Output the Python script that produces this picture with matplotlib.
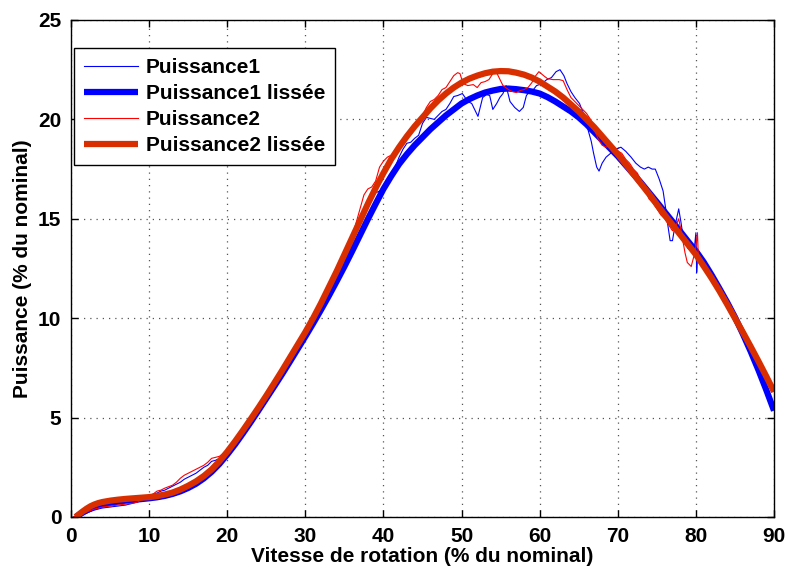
import matplotlib
matplotlib.use("Agg")
import matplotlib.pyplot as plt

# ---------------- data ----------------
# Smoothed curves
x_smooth = [0.6, 1, 1.5, 2, 2.5, 3, 3.5, 4, 5, 6, 7, 8, 9, 10, 11, 12, 13, 14, 15, 16, 17, 18, 19, 20,
            21, 22, 23, 24, 25, 26, 27, 28, 29, 30, 31, 32, 33, 34, 35, 36, 37, 38, 39, 40,
            41, 42, 43, 44, 45, 46, 47, 48, 49, 50, 51, 52, 53, 54, 55, 56, 57, 58, 59, 60,
            61, 62, 63, 64, 65, 66, 67, 68, 69, 70, 71, 72, 73, 74, 75, 76, 77, 78, 79, 80,
            81, 82, 83, 84, 85, 86, 87, 88, 89, 90]
p2_smooth = [0.0, 0.13, 0.28, 0.42, 0.54, 0.63, 0.7, 0.75, 0.82, 0.87, 0.91, 0.94, 0.97, 1.0, 1.05, 1.13, 1.23, 1.38, 1.57, 1.79, 2.06, 2.39, 2.8, 3.28,
             3.8, 4.35, 4.92, 5.5, 6.1, 6.72, 7.35, 8.0, 8.65, 9.3, 10.0, 10.75, 11.55, 12.35, 13.2, 14.05, 14.9, 15.75, 16.55, 17.3,
             18.0, 18.6, 19.15, 19.65, 20.1, 20.55, 20.95, 21.3, 21.6, 21.85, 22.05, 22.2, 22.32, 22.4, 22.43, 22.42, 22.35, 22.25, 22.1, 21.9,
             21.65, 21.4, 21.1, 20.75, 20.4, 20.0, 19.6, 19.15, 18.7, 18.25, 17.75, 17.25, 16.75, 16.25, 15.72, 15.2, 14.7, 14.2, 13.7, 13.2,
             12.62, 12.02, 11.38, 10.7, 10.0, 9.3, 8.58, 7.84, 7.08, 6.3]
p1_smooth = [0.0, 0.1, 0.22, 0.33, 0.43, 0.51, 0.58, 0.63, 0.71, 0.77, 0.82, 0.86, 0.9, 0.94, 0.99, 1.06, 1.16, 1.29, 1.46, 1.67, 1.94, 2.27, 2.67, 3.14,
             3.65, 4.2, 4.77, 5.36, 5.96, 6.56, 7.17, 7.8, 8.44, 9.08, 9.74, 10.42, 11.12, 11.85, 12.6, 13.38, 14.18, 14.98, 15.75, 16.5,
             17.15, 17.75, 18.25, 18.7, 19.1, 19.5, 19.85, 20.2, 20.5, 20.8, 21.02, 21.2, 21.35, 21.45, 21.53, 21.55, 21.52, 21.47, 21.4, 21.3,
             21.12, 20.9, 20.65, 20.4, 20.1, 19.75, 19.35, 18.95, 18.55, 18.15, 17.7, 17.25, 16.8, 16.32, 15.84, 15.35, 14.86, 14.36, 13.86, 13.38,
             12.82, 12.18, 11.5, 10.8, 10.05, 9.22, 8.34, 7.4, 6.4, 5.35]

# Raw measurements
x_p2 = [0.3, 1, 2, 3, 4, 5, 6, 7, 8, 8.5, 9, 9.5, 10, 10.5, 11, 11.5, 12, 13, 13.5, 14, 14.5, 15, 15.5, 16, 16.5,
        17, 17.5, 18, 18.5, 19, 19.5, 20, 20.5, 21, 21.5, 22, 22.5, 23, 23.5, 24, 24.5, 25, 25.5, 26, 26.5, 27,
        27.5, 28, 28.5, 29, 29.5, 30, 30.5, 31, 31.5, 32, 32.5, 33, 33.5, 34, 34.5, 35, 35.5, 36, 36.5, 37, 37.5,
        38, 38.5, 39, 39.5, 40, 40.5, 41, 41.5, 42, 42.5, 43, 43.5, 44, 44.5, 45, 45.5, 46, 46.5, 47, 47.5, 48,
        48.5, 49, 49.5, 49.8, 50.2, 50.8, 51.5, 52, 52.5, 53, 53.5, 54, 54.3, 54.8, 55.3, 56, 56.5, 57, 57.5, 58,
        58.5, 59, 59.5, 59.9, 60.5, 61, 61.7, 62.5, 63, 63.5, 64, 64.5, 65, 65.5, 66, 66.5, 67, 67.5, 68, 68.5,
        69, 69.5, 70, 70.5, 71, 71.5, 72, 72.5, 73, 73.5, 74, 74.5, 75, 75.5, 76, 76.5, 77, 77.5, 77.8, 78.2,
        78.6, 78.9, 79.4, 79.8, 80.0, 80.2, 80.3]
y_p2 = [0.0, 0.1, 0.25, 0.4, 0.5, 0.55, 0.6, 0.65, 0.7, 0.75, 0.85, 0.95, 1.05, 1.15, 1.3, 1.35, 1.45, 1.6, 1.75, 1.95, 2.1, 2.2, 2.3, 2.4, 2.5,
        2.6, 2.75, 2.95, 3.0, 3.05, 3.2, 3.35, 3.6, 3.9, 4.1, 4.3, 4.55, 4.85, 5.1, 5.4, 5.75, 6.0, 6.3, 6.6, 6.9, 7.2,
        7.5, 7.8, 8.15, 8.5, 8.8, 9.15, 9.45, 9.85, 10.2, 10.6, 10.95, 11.4, 11.85, 12.3, 12.65, 13.1, 13.6, 14.1, 14.8, 15.5, 16.2,
        16.5, 16.6, 16.9, 17.6, 17.9, 18.1, 18.2, 18.4, 18.7, 19.0, 19.2, 19.4, 19.75, 19.9, 20.2, 20.6, 20.9, 21.0, 21.2, 21.5, 21.6,
        21.9, 22.2, 22.35, 22.3, 21.8, 21.7, 21.75, 21.6, 21.85, 21.9, 22.0, 22.3, 22.5, 22.1, 21.7, 21.5, 21.4, 21.35, 21.45, 21.5,
        21.6, 21.85, 22.2, 22.4, 22.2, 22.05, 22.0, 22.0, 21.95, 21.5, 21.1, 20.9, 20.7, 20.5, 20.3, 20.0, 19.5, 19.0, 18.7, 18.6,
        18.7, 18.6, 18.4, 18.3, 18.0, 17.8, 17.5, 17.3, 16.9, 16.5, 16.0, 15.8, 15.5, 15.2, 15.0, 14.7, 14.4, 14.7, 15.0, 14.2,
        13.3, 12.8, 12.6, 13.2, 13.6, 14.3, 13.2]

x_p1 = [0.3, 1, 2, 3, 4, 5, 6, 7, 7.5, 8, 8.5, 9, 9.5, 10, 10.5, 11, 11.5, 12, 12.5, 13, 13.5, 14, 14.5, 15, 15.5,
        16, 16.5, 17, 17.5, 18, 18.5, 19, 19.5, 20, 20.5, 21, 21.5, 22, 22.5, 23, 23.5, 24, 24.5, 25, 25.5, 26,
        26.5, 27, 27.5, 28, 28.5, 29, 29.5, 30, 30.5, 31, 31.5, 32, 32.5, 33, 33.5, 34, 34.5, 35, 35.5, 36, 36.5,
        37, 37.5, 38, 38.5, 39, 39.5, 40, 40.5, 41, 41.5, 42, 42.5, 43, 43.5, 44, 44.5, 45, 45.5, 46, 46.5, 47,
        47.5, 48, 48.5, 49, 49.5, 50.1, 50.8, 51.3, 52.1, 52.7, 53.2, 53.6, 54.0, 54.5, 54.9, 55.3, 55.7, 56.2,
        56.8, 57.4, 57.9, 58.3, 58.7, 59.2, 59.6, 60.3, 60.9, 61.5, 62.1, 62.6, 63.1, 63.5, 64, 64.5, 65.1, 65.6,
        66.1, 66.6, 66.9, 67.3, 67.6, 68.0, 68.5, 69.1, 69.7, 70.4, 71.0, 71.7, 72.3, 72.9, 73.4, 73.9, 74.4,
        74.8, 75.3, 75.8, 76.1, 76.4, 76.7, 77.0, 77.3, 77.8, 78.1, 78.4, 78.6, 79.0, 79.4, 79.8, 80.0, 80.1, 80.2]
y_p1 = [0.0, 0.05, 0.2, 0.35, 0.45, 0.5, 0.55, 0.6, 0.65, 0.7, 0.75, 0.85, 0.9, 1.0, 1.15, 1.2, 1.3, 1.35, 1.45, 1.55, 1.65, 1.75, 1.9, 2.0, 2.1,
        2.2, 2.35, 2.5, 2.6, 2.8, 2.85, 2.95, 3.1, 3.25, 3.45, 3.7, 3.95, 4.15, 4.4, 4.7, 5.0, 5.3, 5.6, 5.9, 6.2, 6.5,
        6.8, 7.1, 7.4, 7.7, 8.0, 8.35, 8.7, 9.0, 9.3, 9.6, 10.0, 10.4, 10.9, 11.5, 11.7, 12.0, 12.4, 12.8, 13.3, 13.8, 14.3,
        14.8, 15.2, 15.6, 16.0, 16.3, 16.4, 16.5, 16.7, 17.1, 17.6, 18.1, 18.5, 18.8, 18.85, 19.05, 19.2, 19.8, 20.1, 20.05, 20.0, 20.2,
        20.4, 20.5, 20.8, 21.15, 21.2, 21.3, 20.9, 20.8, 20.15, 21.1, 21.25, 21.2, 20.5, 20.8, 21.1, 21.3, 21.7, 20.9,
        20.6, 20.4, 20.6, 21.2, 21.4, 21.5, 21.7, 21.8, 22.0, 22.1, 22.4, 22.5, 22.2, 21.8, 21.4, 21.1, 20.8, 20.3,
        19.6, 18.9, 18.3, 17.6, 17.4, 17.8, 18.1, 18.3, 18.5, 18.6, 18.4, 18.1, 17.8, 17.6, 17.5, 17.6, 17.5,
        17.5, 17.0, 16.4, 15.6, 14.7, 13.9, 13.9, 14.6, 15.5, 14.8, 14.0, 13.8, 13.5, 13.4, 13.5, 14.3, 12.3, 13.0]

labels = ["Puissance1", "Puissance1 lissée", "Puissance2", "Puissance2 lissée"]
x_ticks = [0, 10, 20, 30, 40, 50, 60, 70, 80, 90]
y_ticks = [0, 5, 10, 15, 20, 25]

# ---------------- plot ----------------
plt.rcParams['font.family'] = ['Liberation Sans', 'DejaVu Sans']
plt.rcParams['font.weight'] = 'bold'

fig = plt.figure(figsize=(7.89, 5.71), dpi=100)
ax = fig.add_axes([0.0900, 0.0946, 0.8910, 0.8704])

blue = '#0000ff'
red = '#ff0000'
red_s = '#d92e00'

ax.plot(x_p1, y_p1, color=blue, lw=0.8, label=labels[0])
ax.plot(x_smooth, p1_smooth, color=blue, lw=4.5, label=labels[1], solid_capstyle='butt')
ax.plot(x_p2, y_p2, color=red, lw=0.8, label=labels[2])
ax.plot(x_smooth, p2_smooth, color=red_s, lw=4.5, label=labels[3], solid_capstyle='butt')

ax.set_xlim(0, 90)
ax.set_ylim(0, 25)
ax.set_xticks(x_ticks)
ax.set_yticks(y_ticks)
ax.tick_params(direction='in', top=True, right=True, labelsize=15, length=5, width=1, pad=7)
for lab in ax.get_xticklabels() + ax.get_yticklabels():
    lab.set_fontweight('bold')
ax.grid(True, linestyle=(0, (1, 4)), color='#555555', lw=0.9)
for s in ax.spines.values():
    s.set_linewidth(1.0)

ax.set_xlabel("Vitesse de rotation (% du nominal)", fontsize=15, fontweight='bold', labelpad=1)
ax.set_ylabel("Puissance (% du nominal)", fontsize=15, fontweight='bold', labelpad=4)

leg = ax.legend(loc='upper left', bbox_to_anchor=(0.004, 0.944), fontsize=15,
                frameon=True, fancybox=False, edgecolor='black', framealpha=1,
                handlelength=2.6, handletextpad=0.35, borderpad=0.5, labelspacing=0.33,
                borderaxespad=0)
leg.get_frame().set_linewidth(1.0)
for t in leg.get_texts():
    t.set_fontweight('bold')

fig.savefig("out.png", dpi=100)
